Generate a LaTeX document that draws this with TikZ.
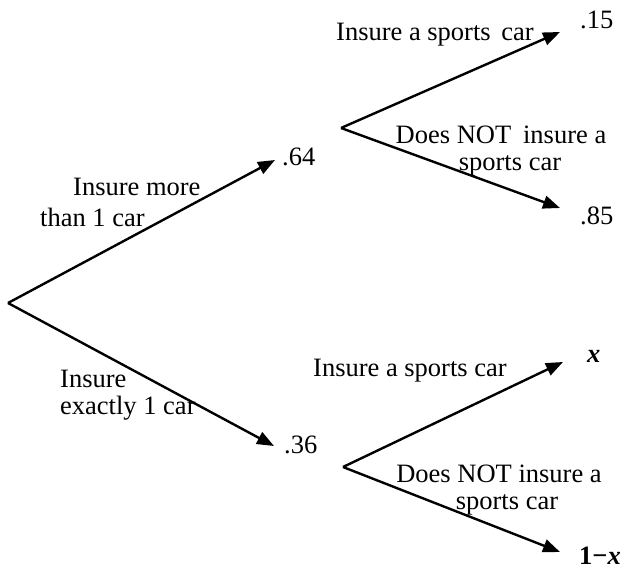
\documentclass[tikz,border=0pt]{standalone}
\usepackage{fontspec}
\setmainfont{Liberation Serif}
\usetikzlibrary{arrows.meta}
\begin{document}
\begin{tikzpicture}[x=1pt,y=-1pt,
  branch/.style={line width=2.4pt,-{Triangle[length=17pt,width=13pt]}},
  lbl/.style={font=\fontsize{26.5}{30}\selectfont,inner sep=0pt,anchor=base west},
  lblc/.style={font=\fontsize{26.5}{30}\selectfont,inner sep=0pt,anchor=base}]
\useasboundingbox (0,0) rectangle (630,571);
% points
\coordinate (root) at (8,303);
\coordinate (tA) at (275,160);
\coordinate (tB) at (274,446);
\coordinate (vA) at (341,128);
\coordinate (vB) at (343,467);
\coordinate (tA1) at (560,32);
\coordinate (tA2) at (560,208);
\coordinate (tB1) at (563,362);
\coordinate (tB2) at (560,552);
% branches
\draw[branch] (root) -- (tA);
\draw[branch] (root) -- (tB);
\draw[branch] (vA) -- (tA1);
\draw[branch] (vA) -- (tA2);
\draw[branch] (vB) -- (tB1);
\draw[branch] (vB) -- (tB2);
% probabilities
\node[lbl] (p64) at (282,165) {.64};
\node[lbl] (p36) at (284,453) {.36};
\node[lbl] (p15) at (580,28) {.15};
\node[lbl] (p85) at (580,224) {.85};
\node[lbl] (px) at (587,362) {\textbf{\textit{x}}};
\node[lbl] (p1x) at (579,564) {\textbf{1−\textit{x}}};
% branch labels
\node[lbl] (m1) at (73,195) {Insure more};
\node[lbl] (m2) at (40,226) {than 1 car};
\node[lbl] (e1) at (60,387) {Insure};
\node[lbl] (e2) at (60,414) {exactly 1 car};
\node[lbl] (s1) at (336,40) {Insure a sports\hspace{0.4em}car};
\node[lblc] (n1) at (501,143) {Does NOT\hspace{0.45em}insure a};
\node[lblc] (n2) at (510,170) {sports car};
\node[lbl] (s2) at (313,376) {Insure a sports car};
\node[lblc] (n3) at (499,482) {Does NOT insure a};
\node[lblc] (n4) at (507,509) {sports car};
\end{tikzpicture}
\end{document}
